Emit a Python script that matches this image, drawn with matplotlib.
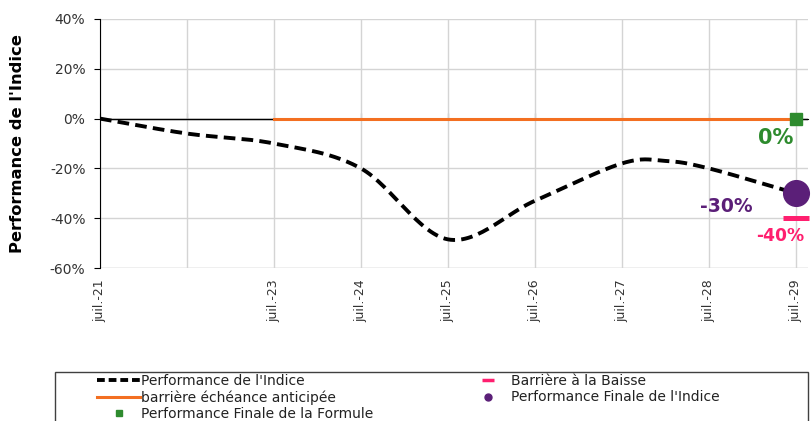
import numpy as np
import matplotlib
matplotlib.use("Agg")
import matplotlib.pyplot as plt
from matplotlib.lines import Line2D
from matplotlib.patches import Rectangle

# ---- data ----
tick_labels = ["juil.-21", "", "juil.-23", "juil.-24", "juil.-25", "juil.-26",
               "juil.-27", "juil.-28", "juil.-29"]
years = [0, 1, 2, 3, 4, 5, 6, 6.5, 7, 8]
perf_indice = [0, -6, -10, -20, -48.5, -33, -18, -17, -20, -30]
barriere_x = [2, 8]
barriere_y = [0, 0]
final_x = 8
final_formule = 0
final_indice = -30
barriere_baisse = -40
yticks = [40, 20, 0, -20, -40, -60]


def catmull_rom(x, y, n=30):
    x = np.asarray(x, float); y = np.asarray(y, float)
    px = np.concatenate([[2 * x[0] - x[1]], x, [2 * x[-1] - x[-2]]])
    py = np.concatenate([[2 * y[0] - y[1]], y, [2 * y[-1] - y[-2]]])
    xs, ys = [], []
    for i in range(1, len(px) - 2):
        t = np.linspace(0, 1, n, endpoint=False)
        for arr, out in ((px, xs), (py, ys)):
            p0, p1, p2, p3 = arr[i - 1], arr[i], arr[i + 1], arr[i + 2]
            out.extend(0.5 * ((2 * p1) + (-p0 + p2) * t +
                              (2 * p0 - 5 * p1 + 4 * p2 - p3) * t ** 2 +
                              (-p0 + 3 * p1 - 3 * p2 + p3) * t ** 3))
    xs.append(x[-1]); ys.append(y[-1])
    return np.array(xs), np.array(ys)


plt.rcParams['font.family'] = ['DejaVu Sans']
fig = plt.figure(figsize=(8.11, 4.21), dpi=100)
ax = fig.add_axes([100 / 811, 1 - 268 / 421, 708 / 811, 249 / 421])

ax.set_xlim(0, 8.14)
ax.set_ylim(-60, 40)
ax.set_yticks(yticks)
ax.set_yticklabels([f"{v}%" for v in yticks], color="#333333", fontsize=10)
ax.set_xticks(range(len(tick_labels)))
ax.set_xticklabels(tick_labels, rotation=90, fontsize=9, color="#333333")
ax.tick_params(axis='x', length=0, pad=8)
ax.tick_params(axis='y', length=4.5, color='black', pad=6)
ax.grid(True, color="#d4d4d4", lw=1)
ax.set_axisbelow(True)
for s in ["top", "right", "bottom"]:
    ax.spines[s].set_visible(False)
ax.spines["left"].set_color("black")
ax.axhline(0, color="black", lw=1, zorder=1)
ax.axhline(-60, color="#d4d4d4", lw=1, zorder=0)

# tick marks on the zero axis line
sec = ax.secondary_xaxis(0.6)
sec.set_xticks(range(len(tick_labels)))
sec.set_xticklabels([])
sec.tick_params(axis='x', length=4, direction='out', color='black')
sec.spines['bottom'].set_visible(False)

ax.set_ylabel("Performance de l'Indice", fontsize=11.8, fontweight='bold')
ax.yaxis.set_label_coords(-0.106, 0.5)

sx, sy = catmull_rom(years, perf_indice)
ax.plot(sx, sy, color="black", lw=2.8, ls=(0, (3, 1.6)), zorder=3)
ax.plot(barriere_x, barriere_y, color="#f36f21", lw=2.2, zorder=2)
ax.plot([final_x], [final_formule], marker='s', ms=8, color="#2e8b2e", ls='none', zorder=5)
ax.plot([final_x], [final_indice], marker='o', ms=18.5, color="#5b1f78", ls='none', zorder=5, clip_on=False)
ax.plot([final_x], [barriere_baisse], marker='_', ms=19, mew=3.6, color="#ff1f6f", ls='none', zorder=5, clip_on=False)

ax.annotate(f"{final_formule}%", (final_x, final_formule), xytext=(-14.4, -13.7),
            textcoords='offset points', ha='center', va='center',
            color="#2e8b2e", fontsize=15, fontweight='bold')
ax.annotate(f"{final_indice}%", (final_x, final_indice), xytext=(-50.4, -9.4),
            textcoords='offset points', ha='center', va='center',
            color="#5b1f78", fontsize=13.5, fontweight='bold')
ax.annotate(f"{barriere_baisse}%", (final_x, barriere_baisse), xytext=(-11.5, -12.7),
            textcoords='offset points', ha='center', va='center',
            color="#ff1f6f", fontsize=12.3, fontweight='bold')

# legend frame (cut off at the bottom of the figure, as in the reference)
fig.patches.append(Rectangle((55 / 811, -0.05), 753 / 811, 0.05 + (421 - 372) / 421,
                             transform=fig.transFigure, fill=False,
                             edgecolor='#404040', lw=1))

handles = [
    Line2D([], [], color="black", lw=2.8, ls=(0, (2, 1))),
    Line2D([], [], color="#f36f21", lw=2.2),
    Line2D([], [], color="#2e8b2e", marker='s', ms=5, ls='none'),
    Line2D([], [], color="#ff1f6f", marker='_', ms=8, mew=2.5, ls='none'),
    Line2D([], [], color="#5b1f78", marker='o', ms=5, ls='none'),
]
labels = ["Performance de l'Indice", "barrière échéance anticipée",
          "Performance Finale de la Formule", "Barrière à la Baisse",
          "Performance Finale de l'Indice"]
leg1 = fig.legend(handles[:3], labels[:3], loc='upper left',
                  bbox_to_anchor=(97 / 811, 1 - 374 / 421),
                  fontsize=10, frameon=False, borderaxespad=0, handlelength=3.1,
                  handletextpad=0.07, labelspacing=0.17, borderpad=0)
leg2 = fig.legend(handles[3:], labels[3:], loc='upper left',
                  bbox_to_anchor=(467 / 811, 1 - 374 / 421),
                  fontsize=10, frameon=False, borderaxespad=0, handlelength=3,
                  handletextpad=0.2, labelspacing=0.17, borderpad=0)
for lg in (leg1, leg2):
    for t in lg.get_texts():
        t.set_color("#222222")

fig.savefig("out.png", dpi=100)
